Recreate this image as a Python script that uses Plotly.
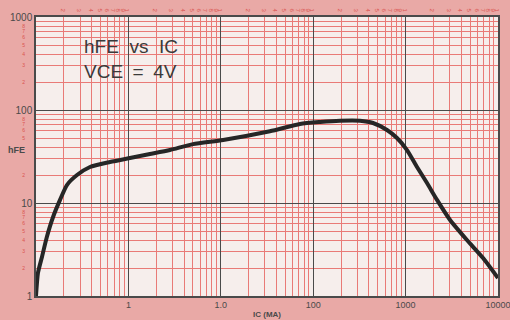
import plotly.graph_objects as go

# Data (IC in mA, hFE)
ic = [0.1, 0.105, 0.116, 0.131, 0.153, 0.182, 0.216, 0.278, 0.384, 0.632, 1.04, 1.71, 2.82,
      5.0, 10.6, 34, 72, 119, 195, 321, 444, 629, 807, 1036, 1329, 1705, 2188, 3027,
      4613, 6890, 10000]
hfe = [1.0, 1.77, 2.63, 4.31, 7.07, 10.8, 15.6, 20, 24.4, 27.6, 30.5, 33.6, 37.1,
       43, 47.6, 59, 70.7, 74.3, 76.7, 76.7, 72.5, 61, 50, 37.1, 24.4, 16.4, 10.8, 6.57,
       4.0, 2.56, 1.56]

x_decades = [0.1, 1, 10, 100, 1000, 10000]
x_ticktext = ["", "1", "1.0", "100", "1000", "10000"]
y_decades = [1, 10, 100, 1000]
y_ticktext = ["1", "10", "100", "1000"]
digits = [2, 3, 4, 5, 6, 7, 8, 9]

x_minor = [k * d for d in x_decades[:-1] for k in digits]
y_minor = [k * d for d in y_decades[:-1] for k in digits]
x_scale_vals = [k * d for d in x_decades[:-1] for k in digits + [10]]
x_scale_text = [str(k if k < 10 else 1) for d in x_decades[:-1] for k in digits + [10]]
y_skip = [30, 40]
y_scale_vals = [k * d for d in y_decades[:-1] for k in digits[:-1] if k * d not in y_skip]
y_scale_text = [str(k) for d in y_decades[:-1] for k in digits[:-1] if k * d not in y_skip]

PAPER = "#e9a9a6"
PLOT = "#f6eeec"
RED = "#e97a77"
DARK = "#4a4a4a"
FONT = "Liberation Sans"

fig = go.Figure()
fig.add_trace(go.Scatter(x=ic, y=hfe, mode="lines",
                         line=dict(color="#262626", width=4, shape="spline", smoothing=0.6),
                         hoverinfo="skip", showlegend=False, cliponaxis=True))
# invisible trace for overlay scale axes
fig.add_trace(go.Scatter(x=[0.1], y=[1], xaxis="x2", yaxis="y2", mode="markers",
                         marker=dict(opacity=0), showlegend=False, hoverinfo="skip"))

fig.update_layout(
    width=510, height=320,
    margin=dict(l=36, r=12, t=17, b=24, autoexpand=False),
    paper_bgcolor=PAPER, plot_bgcolor=PLOT,
    font=dict(family=FONT, color=DARK, size=9),
    xaxis=dict(type="log", range=[-1, 4], tickmode="array", tickvals=x_decades,
               ticktext=x_ticktext, showgrid=True, gridcolor=DARK, gridwidth=1.2,
               showline=True, linecolor=DARK, linewidth=1.5, mirror=True, ticks="",
               zeroline=False, ticklabelstandoff=-1, automargin=False,
               ticklabeloverflow="allow",
               tickfont=dict(size=9, color=DARK, family=FONT),
               minor=dict(tickmode="array", tickvals=x_minor, showgrid=True,
                          gridcolor=RED, gridwidth=1, ticks="")),
    yaxis=dict(type="log", range=[0, 3], tickmode="array", tickvals=y_decades,
               ticktext=y_ticktext, showgrid=True, gridcolor=DARK, gridwidth=1.2,
               showline=True, linecolor=DARK, linewidth=1.5, mirror=True, ticks="",
               zeroline=False, automargin=False, ticklabeloverflow="allow",
               tickfont=dict(size=10, color=DARK, family=FONT),
               minor=dict(tickmode="array", tickvals=y_minor, showgrid=True,
                          gridcolor=RED, gridwidth=1, ticks="")),
    xaxis2=dict(type="log", range=[-1, 4], overlaying="x", side="top", tickmode="array",
                tickvals=x_scale_vals, ticktext=x_scale_text, showgrid=False, ticks="",
                zeroline=False, showline=False, automargin=False,
                ticklabeloverflow="allow",
                tickfont=dict(size=6, color="#d9534f", family=FONT)),
    yaxis2=dict(type="log", range=[0, 3], overlaying="y", side="left", tickmode="array",
                tickvals=y_scale_vals, ticktext=y_scale_text, showgrid=False,
                ticks="outside", ticklen=9, tickcolor="rgba(0,0,0,0)",
                zeroline=False, showline=False, automargin=False,
                tickfont=dict(size=5, color="#d9534f", family=FONT)),
    annotations=[
        dict(text="hFE  vs  IC", xref="paper", yref="paper", x=0.099, y=0.896,
             xanchor="left", yanchor="middle", showarrow=False,
             font=dict(size=19, color="#3a3a3a", family=FONT)),
        dict(text="VCE\u2002=\u20024V", xref="paper", yref="paper", x=0.099, y=0.803,
             xanchor="left", yanchor="middle", showarrow=False,
             font=dict(size=19, color="#3a3a3a", family=FONT)),
        dict(text="<b>hFE</b>", xref="paper", yref="paper", x=-0.043, y=0.523,
             xanchor="center", yanchor="middle", showarrow=False,
             font=dict(size=9, color=DARK, family=FONT)),
        dict(text="<b>IC (MA)</b>", xref="paper", yref="paper", x=0.5, y=-0.068,
             xanchor="center", yanchor="middle", showarrow=False,
             font=dict(size=8, color=DARK, family=FONT)),
    ],
)

fig.write_html("out.html", config={"displayModeBar": False},
               post_script="document.body.style.margin='0';document.body.style.padding='0';")
